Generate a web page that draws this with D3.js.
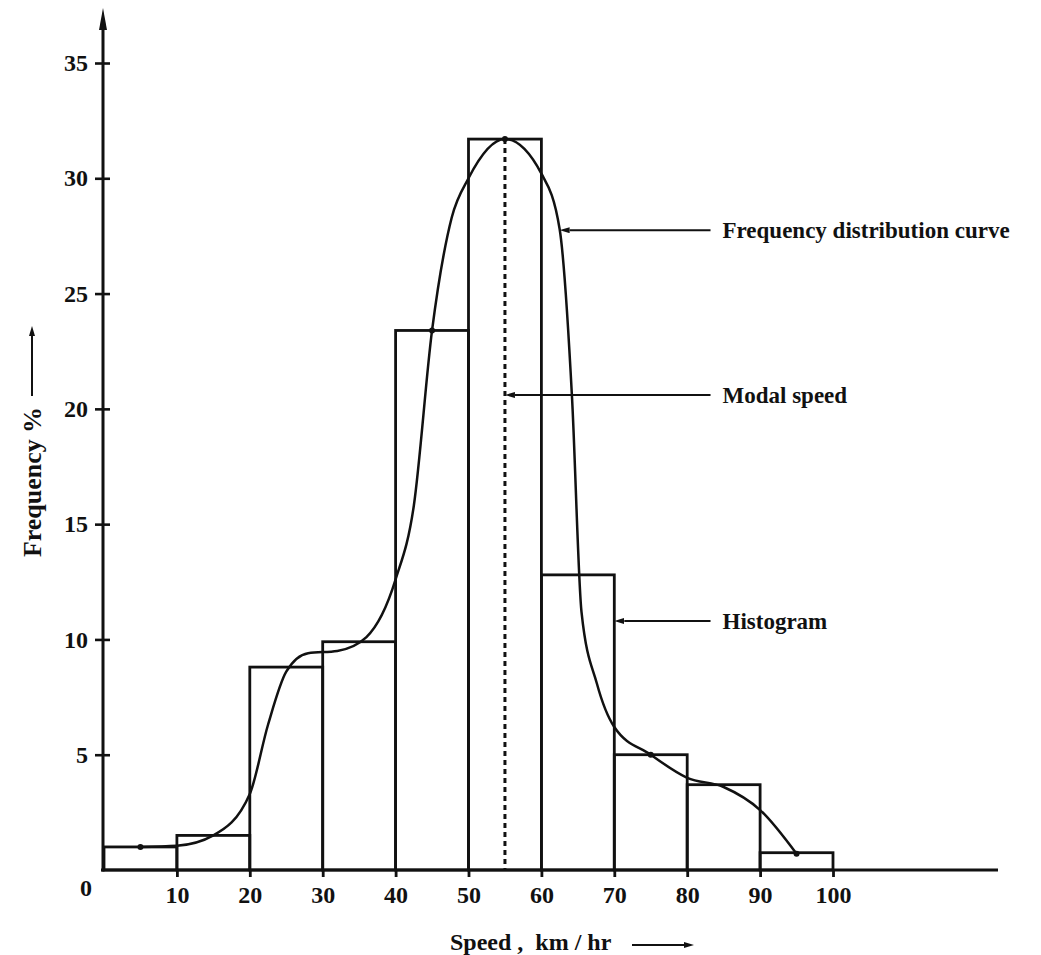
<!DOCTYPE html>
<html>
<head>
<meta charset="utf-8">
<script src="https://cdn.jsdelivr.net/npm/d3@7"></script>
<style>
  body { margin: 0; background: #fff; }
  text { font-family: "Liberation Serif", "Times New Roman", serif; font-weight: bold; fill: #111; }
</style>
</head>
<body>
<script>
// histogram classes (km/hr) and frequency %
const classStart = [0, 10, 20, 30, 40, 50, 60, 70, 80, 90];
const classEnd = [10, 20, 30, 40, 50, 60, 70, 80, 90, 100];
const freqPct = [1.0, 1.5, 8.8, 9.9, 23.4, 31.7, 12.8, 5.0, 3.7, 0.75];

// frequency distribution curve
const curveSpeed = [5, 10, 15, 20, 22.5, 25, 28, 32, 36, 40, 42.5, 45, 47.7, 50, 55, 60, 62.5, 64.2, 65.5, 67.6, 70, 75, 80, 85, 90, 95];
const curveFreq = [1.0, 1.05, 1.5, 3.3, 6.3, 8.6, 9.4, 9.5, 10.1, 12.6, 15.8, 23.4, 28.3, 30.0, 31.7, 30.2, 27.8, 20.5, 11.2, 8.1, 6.2, 5.0, 4.0, 3.6, 2.6, 0.7];

// plotted points on the curve
const dotSpeed = [5, 45, 55, 75, 95];
const dotFreq = [1.0, 23.4, 31.7, 5.0, 0.7];

const modalSpeed = 55;

const xTicks = [10, 20, 30, 40, 50, 60, 70, 80, 90, 100];
const yTicks = [5, 10, 15, 20, 25, 30, 35];

// callouts
const noteText = ['Frequency distribution curve', 'Modal speed', 'Histogram'];
const noteFreq = [27.75, 20.6, 10.8];
const noteFrom = [62.5, 55, 70];
const noteTo = 83.2;

const width = 1041;
const height = 955;

const svg = d3.select('body').append('svg')
    .attr('width', width)
    .attr('height', height);

const x = d3.scaleLinear().domain([0, 100]).range([104, 833]);
const y = d3.scaleLinear().domain([0, 35]).range([870, 63]);

const defs = svg.append('defs');
defs.append('marker')
    .attr('id', 'arrow')
    .attr('viewBox', '0 0 10 6')
    .attr('refX', 0)
    .attr('refY', 3)
    .attr('markerWidth', 10)
    .attr('markerHeight', 6)
    .attr('markerUnits', 'userSpaceOnUse')
    .attr('orient', 'auto-start-reverse')
    .append('path')
    .attr('d', 'M0,0 L10,3 L0,6 Z')
    .attr('fill', '#111');

// histogram bars
svg.selectAll('rect.bar')
    .data(freqPct)
    .enter()
    .append('rect')
    .attr('class', 'bar')
    .attr('x', (d, i) => x(classStart[i]))
    .attr('y', d => y(d))
    .attr('width', (d, i) => x(classEnd[i]) - x(classStart[i]))
    .attr('height', d => y(0) - y(d))
    .attr('fill', 'none')
    .attr('stroke', '#111')
    .attr('stroke-width', 2.8);

// modal speed
svg.append('line')
    .attr('x1', x(modalSpeed)).attr('x2', x(modalSpeed))
    .attr('y1', y(d3.max(freqPct))).attr('y2', y(0))
    .attr('stroke', '#111')
    .attr('stroke-width', 3)
    .attr('stroke-dasharray', '5,4');

// curve
const line = d3.line()
    .x(d => x(d[0]))
    .y(d => y(d[1]))
    .curve(d3.curveMonotoneX);

svg.append('path')
    .datum(curveSpeed.map((s, i) => [s, curveFreq[i]]))
    .attr('d', line)
    .attr('fill', 'none')
    .attr('stroke', '#111')
    .attr('stroke-width', 2.5);

svg.selectAll('circle.pt')
    .data(dotSpeed)
    .enter()
    .append('circle')
    .attr('class', 'pt')
    .attr('cx', d => x(d))
    .attr('cy', (d, i) => y(dotFreq[i]))
    .attr('r', 3)
    .attr('fill', '#111');

// x axis
const xAxis = svg.append('g')
    .attr('transform', `translate(0,${y(0)})`)
    .call(d3.axisBottom(x).tickValues(xTicks).tickSize(7).tickPadding(9));
xAxis.select('.domain').remove();
xAxis.selectAll('line').attr('stroke', '#111').attr('stroke-width', 2.8);
xAxis.selectAll('text').attr('font-size', 24).attr('font-family', null).attr('fill', null);

svg.append('line')
    .attr('x1', 101).attr('x2', 998)
    .attr('y1', y(0)).attr('y2', y(0))
    .attr('stroke', '#111')
    .attr('stroke-width', 3);

// y axis
const yAxis = svg.append('g')
    .attr('transform', `translate(${x(0) - 1},0)`)
    .call(d3.axisLeft(y).tickValues(yTicks).tickSize(8).tickPadding(7));
yAxis.select('.domain').remove();
yAxis.selectAll('line').attr('x1', 7).attr('stroke', '#111').attr('stroke-width', 2.6);
yAxis.selectAll('text').attr('font-size', 24).attr('font-family', null).attr('fill', null);

svg.append('line')
    .attr('x1', x(0) - 1).attr('x2', x(0) - 1)
    .attr('y1', y(0) + 1.5).attr('y2', 24)
    .attr('stroke', '#111')
    .attr('stroke-width', 3);
svg.append('path')
    .attr('d', `M${x(0) - 1 - 4},30 L${x(0) - 1},8 L${x(0) - 1 + 4},30 Z`)
    .attr('fill', '#111');

svg.append('text')
    .attr('x', 86)
    .attr('y', 896)
    .attr('text-anchor', 'middle')
    .attr('font-size', 24)
    .text('0');

// axis titles
svg.append('text')
    .attr('transform', 'translate(41,557) rotate(-90)')
    .attr('font-size', 25)
    .attr('textLength', 150)
    .attr('lengthAdjust', 'spacingAndGlyphs')
    .text('Frequency %');
svg.append('line')
    .attr('x1', 32).attr('x2', 32)
    .attr('y1', 396).attr('y2', 336)
    .attr('stroke', '#111')
    .attr('stroke-width', 2)
    .attr('marker-end', 'url(#arrow)');

svg.append('text')
    .attr('x', 450)
    .attr('y', 950)
    .attr('font-size', 24)
    .attr('xml:space', 'preserve')
    .text('Speed ,  km / hr');
svg.append('line')
    .attr('x1', 632).attr('x2', 684)
    .attr('y1', 945).attr('y2', 945)
    .attr('stroke', '#111')
    .attr('stroke-width', 2)
    .attr('marker-end', 'url(#arrow)');

// callouts
const notes = svg.selectAll('g.note')
    .data(noteText)
    .enter()
    .append('g')
    .attr('class', 'note');

notes.append('line')
    .attr('x1', (d, i) => x(noteTo))
    .attr('x2', (d, i) => x(noteFrom[i]) + 10)
    .attr('y1', (d, i) => y(noteFreq[i]))
    .attr('y2', (d, i) => y(noteFreq[i]))
    .attr('stroke', '#111')
    .attr('stroke-width', 2)
    .attr('marker-end', 'url(#arrow)');

notes.append('text')
    .attr('x', x(noteTo) + 12)
    .attr('y', (d, i) => y(noteFreq[i]) + 8)
    .attr('font-size', 23)
    .text(d => d);
</script>
</body>
</html>
